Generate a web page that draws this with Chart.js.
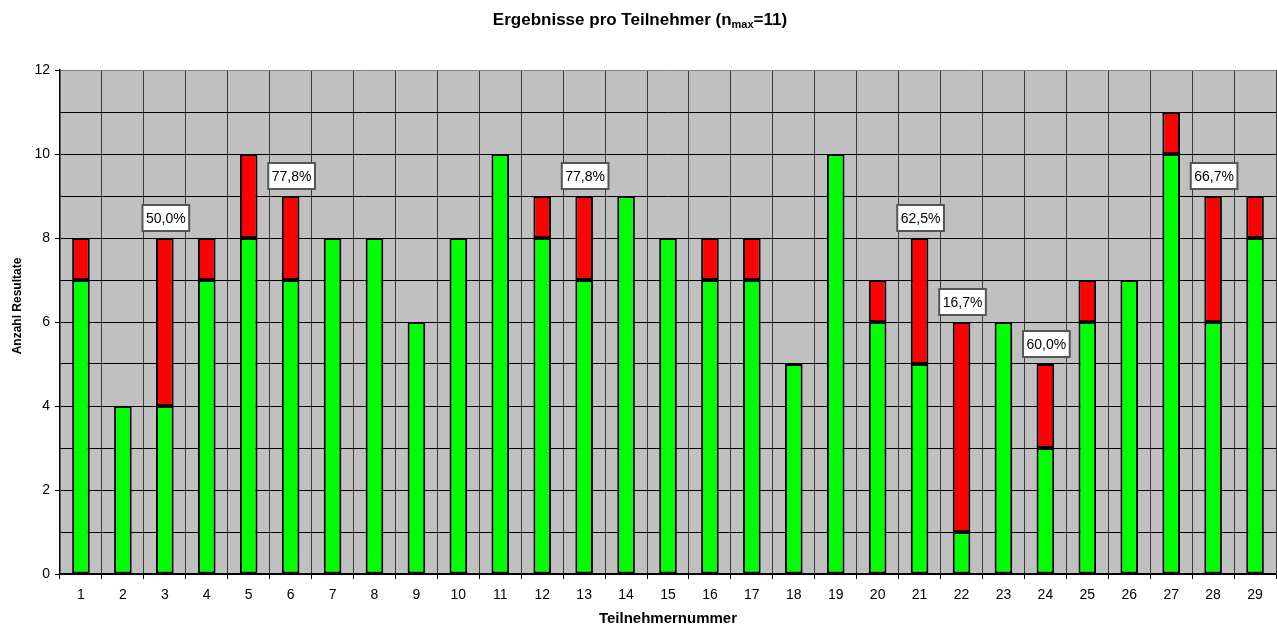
<!DOCTYPE html>
<html>
<head>
<meta charset="utf-8">
<script src="https://cdn.jsdelivr.net/npm/chart.js@4/dist/chart.umd.min.js"></script>
<style>
html,body{margin:0;padding:0;background:#fff;}
#wrap{width:1277px;height:628px;position:relative;}
</style>
</head>
<body>
<div id="wrap"><canvas id="c" width="1277" height="628"></canvas></div>
<script>
const categories = ['1','2','3','4','5','6','7','8','9','10','11','12','13','14','15','16','17','18','19','20','21','22','23','24','25','26','27','28','29'];
const greenValues = [7,4,4,7,8,7,8,8,6,8,10,8,7,9,8,7,7,5,10,6,5,1,6,3,6,7,10,6,8];
const redValues   = [1,0,4,1,2,2,0,0,0,0,0,1,2,0,0,1,1,0,0,1,3,5,0,2,1,0,1,3,1];
const pctLabels   = [null,null,'50,0%',null,null,'77,8%',null,null,null,null,null,null,'77,8%',null,null,null,null,null,null,null,'62,5%','16,7%',null,'60,0%',null,null,null,'66,7%',null];
const yTicks = [0,2,4,6,8,10,12];

const FONT = "'Liberation Sans', Arial, sans-serif";

const bgPlugin = {
  id: 'bg',
  beforeDraw(chart) {
    const {ctx, chartArea: a} = chart;
    ctx.save();
    ctx.fillStyle = '#c0c0c0';
    ctx.fillRect(a.left, a.top, a.right - a.left, a.bottom - a.top);
    ctx.restore();
  }
};

const titlePlugin = {
  id: 'ttl',
  afterDraw(chart) {
    const ctx = chart.ctx;
    ctx.save();
    const main = 'bold 17px ' + FONT, sub = 'bold 11px ' + FONT;
    const p1 = 'Ergebnisse pro Teilnehmer (n', p2 = 'max', p3 = '=11)';
    ctx.font = main; const w1 = ctx.measureText(p1).width, w3 = ctx.measureText(p3).width;
    ctx.font = sub; const w2 = ctx.measureText(p2).width;
    let x = 640 - (w1 + w2 + w3) / 2;
    const y = 25;
    ctx.fillStyle = '#000';
    ctx.textBaseline = 'alphabetic';
    ctx.textAlign = 'left';
    ctx.font = main; ctx.fillText(p1, x, y); x += w1;
    ctx.font = sub; ctx.fillText(p2, x, y + 3); x += w2;
    ctx.font = main; ctx.fillText(p3, x, y);
    // y axis title
    ctx.save();
    ctx.translate(17.5, 306);
    ctx.rotate(-Math.PI / 2);
    ctx.font = 'bold 12px ' + FONT;
    ctx.textAlign = 'center';
    ctx.textBaseline = 'middle';
    ctx.fillText('Anzahl Resultate', 0, 0);
    ctx.restore();
    ctx.restore();
  }
};

const labelPlugin = {
  id: 'pct',
  afterDatasetsDraw(chart) {
    const ctx = chart.ctx;
    const meta = chart.getDatasetMeta(1);
    const ys = chart.scales.y;
    ctx.save();
    ctx.font = '14px ' + FONT;
    ctx.textAlign = 'center';
    ctx.textBaseline = 'middle';
    pctLabels.forEach((t, i) => {
      if (!t) return;
      const el = meta.data[i];
      const top = ys.getPixelForValue(greenValues[i] + redValues[i]);
      const w = ctx.measureText(t).width + 7, h = 26;
      const cx = el.x + 1, by = top - 7;
      ctx.fillStyle = '#fff';
      ctx.fillRect(cx - w / 2, by - h, w, h);
      ctx.strokeStyle = '#555';
      ctx.lineWidth = 2;
      ctx.strokeRect(cx - w / 2, by - h, w, h);
      ctx.fillStyle = '#000';
      ctx.fillText(t, cx, by - h / 2 + 1);
    });
    ctx.restore();
  }
};

new Chart(document.getElementById('c'), {
  type: 'bar',
  data: {
    labels: categories,
    datasets: [
      {label: 'richtig', data: greenValues, backgroundColor: '#00ff00', borderColor: '#000', borderWidth: 2, borderSkipped: false, barPercentage: 0.42, categoryPercentage: 1},
      {label: 'falsch', data: redValues, backgroundColor: '#ff0000', borderColor: '#000', borderWidth: 2, borderSkipped: false, barPercentage: 0.42, categoryPercentage: 1}
    ]
  },
  options: {
    responsive: false,
    animation: false,
    events: [],
    layout: {padding: {top: 70, left: 0, right: 1, bottom: 0}},
    plugins: {legend: {display: false}, title: {display: false}, tooltip: {enabled: false}},
    scales: {
      x: {
        stacked: true,
        offset: true,
        grid: {offset: true, color: (c) => c.index === 0 ? '#000' : '#3a3a3a', lineWidth: 1, tickLength: 5, tickColor: '#000'},
        border: {color: '#000', width: 1.5},
        ticks: {color: '#000', font: {family: FONT, size: 14}, padding: 8, maxRotation: 0, autoSkip: false},
        title: {display: true, text: 'Teilnehmernummer', color: '#000', font: {family: FONT, size: 15, weight: 'bold'}, padding: {top: 0, bottom: 0}},
        afterFit(s) { s.height = 54; }
      },
      y: {
        stacked: true,
        min: 0, max: 12,
        afterBuildTicks(s) { s.ticks = []; for (let v = 0; v <= 12; v++) s.ticks.push({value: v}); },
        grid: {color: (c) => c.tick && c.tick.value === 12 ? '#808080' : '#000', lineWidth: 1, tickLength: 5, tickColor: (c) => c.tick && c.tick.value % 2 === 0 ? '#000' : 'rgba(0,0,0,0)'},
        border: {color: '#000', width: 1.5},
        ticks: {color: '#000', font: {family: FONT, size: 14}, padding: 5, callback: (v) => yTicks.includes(v) ? String(v) : ''},
        title: {display: false},
        afterFit(s) { s.width = 60; }
      }
    }
  },
  plugins: [bgPlugin, labelPlugin, titlePlugin]
});
</script>
</body>
</html>
